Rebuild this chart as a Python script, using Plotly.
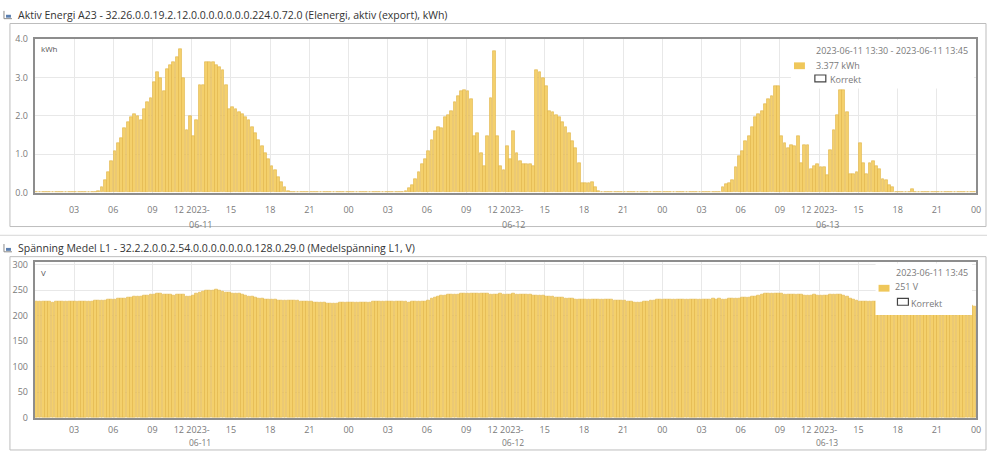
import pandas as pd
import plotly.graph_objects as go

# ---------------- data (15-minute intervals) ----------------
kwh_0611 = [0.0]*19 + [
    0.03, 0.15, 0.32, 0.53, 0.83, 1.08, 1.29, 1.42, 1.67, 1.84, 1.97, 2.05,
    2.00, 1.88, 2.18, 2.35, 2.47, 2.89, 3.15, 2.98, 2.64, 3.23, 3.31, 3.40,
    3.53, 3.75, 2.98, 1.63, 2.00, 1.46, 1.88, 2.81, 2.81, 3.40, 3.40, 3.40,
    3.33, 3.27, 3.19, 2.81, 2.18, 2.22, 2.18, 2.09, 2.05, 1.97, 1.88, 1.71,
    1.54, 1.38, 1.21, 1.04, 0.87, 0.70, 0.58, 0.41, 0.28, 0.15, 0.04, 0.01,
] + [0.0]*17

kwh_0612 = [0.0]*17 + [
    0.04, 0.11, 0.19, 0.36, 0.53, 0.74, 0.87, 1.08, 1.38, 1.59, 1.71, 1.67,
    1.97, 2.01, 2.13, 2.35, 2.52, 2.64, 2.68, 2.64, 2.43, 1.46, 1.54, 1.04,
    0.70, 1.46, 2.47, 3.70, 1.46, 0.70, 0.58, 1.21, 0.87, 1.59, 1.04, 0.83,
    0.74, 0.74, 0.74, 0.70, 3.19, 3.15, 2.98, 2.77, 2.13, 2.09, 2.01, 1.97,
    1.84, 1.71, 1.54, 1.33, 1.17, 0.78, 0.24, 0.24, 0.24, 0.28, 0.15, 0.03,
    0.01, 0.00,
] + [0.0]*17

kwh_0613 = [0.0]*17 + [
    0.01, 0.15, 0.21, 0.24, 0.32, 0.66, 0.95, 1.08, 1.33, 1.46, 1.71, 1.97,
    2.05, 2.13, 2.30, 2.43, 2.52, 2.77, 2.77, 1.46, 1.29, 1.16, 1.25, 1.20,
    1.46, 0.78, 1.25, 1.25, 0.61, 0.70, 0.74, 0.66, 0.66, 0.45, 1.12, 1.63,
    2.01, 2.66, 2.66, 2.09, 0.49, 0.49, 0.53, 1.29, 0.78, 0.49, 0.78, 0.83,
    0.70, 0.61, 0.36, 0.32, 0.19, 0.15, 0.00,
] + [0.0, 0.0, 0.0, 0.0, 0.08] + [0.0]*19

volt_0611 = [
    227, 227, 228, 227, 227, 226, 227, 227, 227, 228, 227, 227, 227, 228, 227, 228,
    228, 228, 229, 229, 230, 230, 231, 231, 232, 233, 233, 234, 235, 236, 237, 237,
    238, 239, 240, 241, 242, 243, 243, 242, 241, 241, 240, 242, 242, 241, 238, 237,
    240, 243, 246, 248, 249, 250, 250, 251, 250, 248, 246, 245, 244, 244, 243, 241,
    239, 238, 237, 236, 234, 233, 232, 232, 231, 231, 230, 230, 230, 229, 229, 229,
    229, 228, 228, 227, 227, 226, 226, 225, 225, 224, 224, 224, 224, 225, 225, 225,
]
volt_0612 = [
    225, 225, 226, 226, 225, 226, 226, 227, 227, 228, 228, 228, 228, 228, 228, 227,
    227, 227, 226, 227, 227, 227, 228, 228, 230, 233, 236, 238, 239, 240, 241, 242,
    242, 242, 243, 243, 243, 244, 244, 244, 244, 243, 243, 242, 242, 242, 243, 242,
    242, 242, 243, 242, 242, 242, 241, 241, 240, 240, 240, 239, 238, 237, 237, 236,
    235, 235, 234, 233, 233, 232, 232, 232, 232, 232, 231, 232, 232, 231, 232, 231,
    231, 230, 230, 229, 229, 228, 227, 226, 226, 226, 227, 228, 229, 230, 231, 231,
]
volt_0613 = [
    232, 232, 232, 231, 231, 232, 232, 231, 232, 232, 231, 232, 232, 232, 232, 233,
    232, 233, 232, 232, 233, 233, 234, 234, 235, 235, 236, 237, 238, 240, 242, 243,
    244, 244, 244, 243, 243, 242, 242, 242, 242, 241, 241, 240, 240, 240, 241, 240,
    240, 240, 240, 241, 241, 241, 241, 240, 238, 234, 232, 230, 228, 227, 227, 227,
    228, 228, 227, 228, 228, 228, 228, 227, 227, 228, 228, 228, 228, 227, 227, 228,
    228, 228, 227, 227, 227, 226, 226, 226, 226, 225, 225, 225, 224, 222, 220, 218,
]

kwh = kwh_0611 + kwh_0612 + kwh_0613
volt = volt_0611 + volt_0612 + volt_0613

tick_hours = list(range(3, 72, 3))
tick_text = ["12 2023-" if h % 24 == 12 else f"{h % 24:02d}" for h in tick_hours] + ["00"]
date_labels = ["06-11", "06-12", "06-13"]

title_top = "Aktiv Energi A23 - 32.26.0.0.19.2.12.0.0.0.0.0.0.0.224.0.72.0 (Elenergi, aktiv (export), kWh)"
title_bot = "Spänning Medel L1 - 32.2.2.0.0.2.54.0.0.0.0.0.0.0.128.0.29.0 (Medelspänning L1, V)"

# ---------------- build ----------------
W, H = 992, 455
def px(x): return x / W
def py(y): return 1 - y / H

start = pd.Timestamp("2023-06-11 00:00")
times = start + pd.to_timedelta([15 * i + 7.5 for i in range(len(kwh))], unit="min")
tickvals = [start + pd.Timedelta(hours=h) for h in tick_hours] + [start + pd.Timedelta(hours=72)]

bar_fill = "#F4D06C"
bar_edge = "#E1B447"
FONT = "Open Sans"

fig = go.Figure()
fig.add_trace(go.Bar(x=times, y=kwh, xaxis="x", yaxis="y", width=15 * 60 * 1000 * 0.86,
                     marker=dict(color=bar_fill, line=dict(color=bar_edge, width=0.6)),
                     showlegend=False, hoverinfo="skip"))
fig.add_trace(go.Bar(x=times, y=volt, xaxis="x2", yaxis="y2", width=15 * 60 * 1000 * 0.86,
                     marker=dict(color=bar_fill, line=dict(color=bar_edge, width=0.6)),
                     showlegend=False, hoverinfo="skip"))

xcommon = dict(range=[start, start + pd.Timedelta(hours=72)], domain=[px(35), px(981)],
               tickmode="array", tickvals=tickvals, ticktext=tick_text,
               tickfont=dict(family=FONT, size=9, color="#7a7a7a"),
               showgrid=True, gridcolor="#e8e8e8", gridwidth=1,
               showline=True, linecolor="#8d8d8d", linewidth=2, mirror=True,
               ticks="outside", tickcolor="rgba(0,0,0,0)", zeroline=False,
               fixedrange=True)
ycommon = dict(tickfont=dict(family=FONT, size=9, color="#7a7a7a"),
               showgrid=True, gridcolor="#e8e8e8", gridwidth=1,
               showline=True, linecolor="#8d8d8d", linewidth=2, mirror=True,
               ticks="outside", ticklen=3, tickcolor="rgba(0,0,0,0)", zeroline=False,
               fixedrange=True)

fig.update_layout(
    width=W, height=H, margin=dict(l=0, r=0, t=0, b=0),
    paper_bgcolor="white", plot_bgcolor="white", bargap=0,
    xaxis=dict(**xcommon, anchor="y", ticklen=8),
    xaxis2=dict(**xcommon, anchor="y2", ticklen=2),
    yaxis=dict(**ycommon, anchor="x", domain=[py(191), py(33)], range=[0, 4.0],
               tickvals=[0, 1, 2, 3, 4], ticktext=["0.0", "1.0", "2.0", "3.0", "4.0"]),
    yaxis2=dict(**ycommon, anchor="x2", domain=[py(423), py(263)], range=[0, 303.8],
                tickvals=[0, 50, 100, 150, 200, 250, 300]),
)

shapes = []
ann = []
# panel borders
shapes.append(dict(type="rect", xref="paper", yref="paper", x0=px(10), x1=px(991), y0=py(226), y1=py(17),
                   line=dict(color="#bdbdbd", width=1), layer="below"))
shapes.append(dict(type="line", xref="paper", yref="paper", x0=0, x1=1, y0=py(235), y1=py(235),
                   line=dict(color="#d6d6d6", width=1)))
shapes.append(dict(type="rect", xref="paper", yref="paper", x0=px(10), x1=px(991), y0=py(456), y1=py(257),
                   line=dict(color="#bdbdbd", width=1), layer="below"))

# titles + icons
for ty, text in [(8, title_top), (248, title_bot)]:
    shapes.append(dict(type="line", xref="paper", yref="paper", x0=px(4), x1=px(4), y0=py(ty + 4), y1=py(ty - 4),
                       line=dict(color="#8a8a8a", width=1)))
    shapes.append(dict(type="line", xref="paper", yref="paper", x0=px(4), x1=px(12), y0=py(ty + 4), y1=py(ty + 4),
                       line=dict(color="#8a8a8a", width=1)))
    shapes.append(dict(type="rect", xref="paper", yref="paper", x0=px(6), x1=px(11), y0=py(ty + 3), y1=py(ty),
                       line=dict(width=0), fillcolor="#5b7fb0"))
    ann.append(dict(xref="paper", yref="paper", x=px(16), y=py(ty), xanchor="left", yanchor="middle",
                    text=text, showarrow=False, font=dict(family=FONT, size=10.5, color="#333333")))

# unit labels
ann.append(dict(xref="paper", yref="paper", x=px(39), y=py(43), xanchor="left", yanchor="middle",
                text="kWh", showarrow=False, font=dict(family=FONT, size=8, color="#555555")))
ann.append(dict(xref="paper", yref="paper", x=px(39), y=py(273), xanchor="left", yanchor="middle",
                text="V", showarrow=False, font=dict(family=FONT, size=8, color="#555555")))

# date sub-labels under the 12 ticks
for d, lab in enumerate(date_labels):
    xd = start + pd.Timedelta(hours=24 * d + 12)
    ann.append(dict(xref="x", yref="paper", x=xd, y=py(224), xanchor="left",
                    yanchor="middle", xshift=-5, text=lab, showarrow=False,
                    font=dict(family=FONT, size=9, color="#7a7a7a")))
    ann.append(dict(xref="x2", yref="paper", x=xd, y=0, xanchor="left",
                    yanchor="bottom", xshift=-5, yshift=-1, text=lab, showarrow=False,
                    font=dict(family=FONT, size=8.5, color="#7a7a7a")))

# legends (white boxes drawn above bars)
def legend(box, header, hx, hy, sw, val, vx, vy, kb, kx, ky):
    shapes.append(dict(type="rect", xref="paper", yref="paper", x0=px(box[0]), x1=px(box[1]),
                       y0=py(box[3]), y1=py(box[2]), line=dict(width=0), fillcolor="white", layer="above"))
    ann.append(dict(xref="paper", yref="paper", x=px(hx), y=py(hy), xanchor="right", yanchor="middle",
                    text=header, showarrow=False, font=dict(family=FONT, size=9, color="#7a7a7a")))
    shapes.append(dict(type="rect", xref="paper", yref="paper", x0=px(sw[0]), x1=px(sw[1]), y0=py(sw[3]),
                       y1=py(sw[2]), line=dict(width=0), fillcolor="#EFC75A", layer="above"))
    ann.append(dict(xref="paper", yref="paper", x=px(vx), y=py(vy), xanchor="left", yanchor="middle",
                    text=val, showarrow=False, font=dict(family=FONT, size=9, color="#7a7a7a")))
    shapes.append(dict(type="rect", xref="paper", yref="paper", x0=px(kb[0]), x1=px(kb[1]), y0=py(kb[3]),
                       y1=py(kb[2]), line=dict(color="#444444", width=1.2), fillcolor="white", layer="above"))
    ann.append(dict(xref="paper", yref="paper", x=px(kx), y=py(ky), xanchor="left", yanchor="middle",
                    text="Korrekt", showarrow=False, font=dict(family=FONT, size=9, color="#7a7a7a")))

legend((795, 979, 34, 84), "2023-06-11 13:30 - 2023-06-11 13:45", 975, 45,
       (798, 809, 57, 64), "3.377 kWh", 818, 60, (819, 830, 70, 77), 832, 75)
legend((880, 977, 264, 317), "2023-06-11 13:45", 975, 273,
       (883, 894, 286, 293), "251 V", 898, 288, (902, 913, 300, 307), 914, 305)

fig.update_layout(shapes=shapes, annotations=ann)
fig.write_html("out.html", config={"displayModeBar": False}, post_script=(
    "document.body.style.margin='0';document.body.style.padding='0';"
    "document.body.style.overflow='hidden';document.documentElement.style.overflow='hidden';"))
